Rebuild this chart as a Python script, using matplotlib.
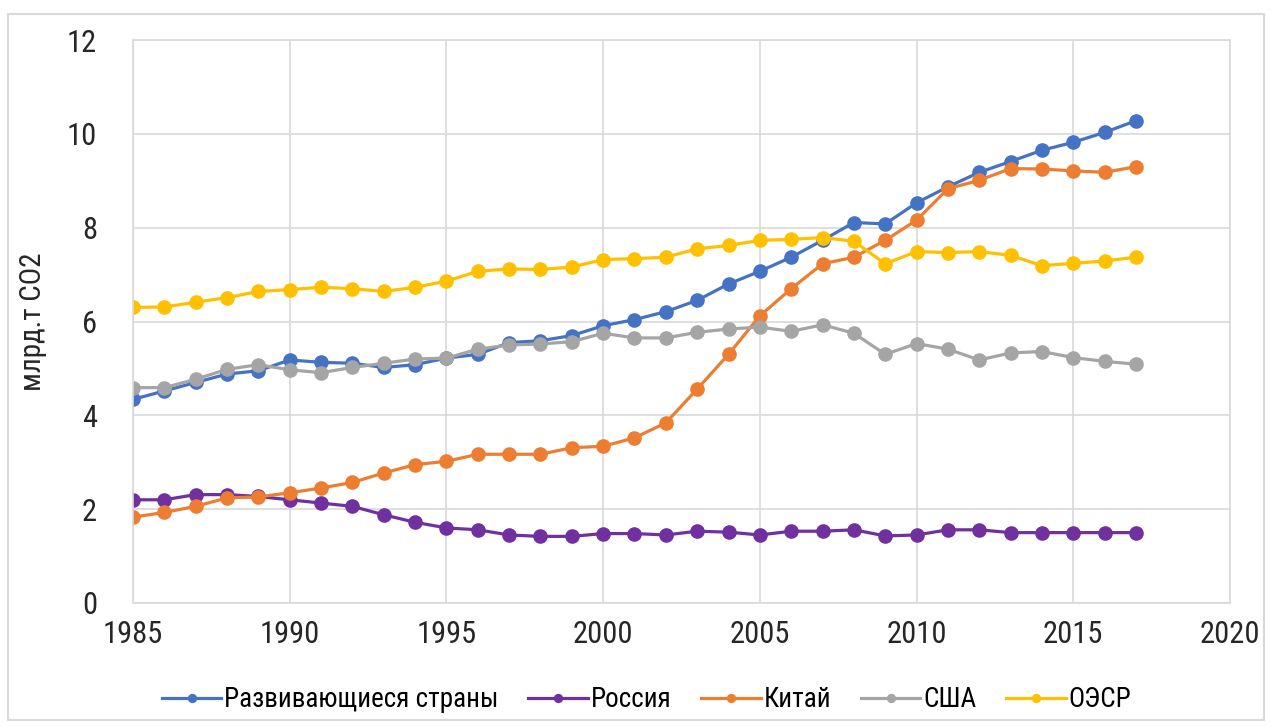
import matplotlib.pyplot as plt
from matplotlib.patches import Rectangle

plt.rcParams['font.family'] = ['Roboto Condensed', 'DejaVu Sans Condensed', 'DejaVu Sans']
plt.rcParams['font.stretch'] = 'condensed'

years = list(range(1985, 2018))

developing = [4.34, 4.52, 4.70, 4.88, 4.95, 5.18, 5.13, 5.11, 5.02, 5.08, 5.22, 5.30,
              5.55, 5.59, 5.70, 5.91, 6.04, 6.21, 6.45, 6.80, 7.07, 7.37, 7.73, 8.11,
              8.08, 8.53, 8.87, 9.18, 9.41, 9.65, 9.82, 10.03, 10.28]
russia = [2.20, 2.20, 2.31, 2.31, 2.27, 2.20, 2.13, 2.06, 1.88, 1.72, 1.60, 1.56,
          1.45, 1.42, 1.42, 1.48, 1.48, 1.45, 1.53, 1.51, 1.45, 1.53, 1.53, 1.56,
          1.43, 1.45, 1.56, 1.56, 1.50, 1.50, 1.50, 1.50, 1.50]
china = [1.83, 1.93, 2.06, 2.24, 2.26, 2.35, 2.45, 2.57, 2.77, 2.95, 3.02, 3.17,
         3.17, 3.17, 3.31, 3.34, 3.52, 3.84, 4.56, 5.30, 6.12, 6.70, 7.23, 7.37,
         7.73, 8.16, 8.83, 9.01, 9.26, 9.25, 9.21, 9.18, 9.30]
usa = [4.59, 4.59, 4.77, 4.98, 5.08, 4.97, 4.91, 5.02, 5.11, 5.20, 5.22, 5.41,
       5.50, 5.52, 5.57, 5.75, 5.65, 5.65, 5.77, 5.84, 5.88, 5.79, 5.93, 5.75,
       5.30, 5.53, 5.41, 5.18, 5.33, 5.36, 5.23, 5.15, 5.09]
oecd = [6.30, 6.31, 6.41, 6.51, 6.64, 6.68, 6.73, 6.70, 6.64, 6.73, 6.86, 7.07,
        7.12, 7.11, 7.16, 7.32, 7.34, 7.37, 7.55, 7.62, 7.73, 7.75, 7.79, 7.71,
        7.23, 7.49, 7.47, 7.49, 7.41, 7.19, 7.24, 7.29, 7.37]

series = [
    ('Развивающиеся страны', developing, '#4472C4'),
    ('Россия', russia, '#7030A0'),
    ('Китай', china, '#ED7D31'),
    ('США', usa, '#A5A5A5'),
    ('ОЭСР', oecd, '#FFC000'),
]

fig = plt.figure(figsize=(12.71, 7.27), dpi=100)
fig.patches.append(Rectangle((8 / 1271, 7 / 727), 1256 / 1271, 706 / 727,
                             transform=fig.transFigure, fill=False,
                             edgecolor='#D9D9D9', linewidth=1.5))
ax = fig.add_axes([133 / 1271, 124 / 727, 1097 / 1271, 563 / 727])

for label, values, color in series:
    ax.plot(years, values, marker='o', color=color, linewidth=2.3,
            markersize=9.5, label=label)

ax.set_xlim(1985, 2020)
ax.set_ylim(0, 12)
ax.set_xticks(range(1985, 2021, 5))
ax.set_yticks(range(0, 13, 2))
ax.grid(True, color='#D9D9D9', linewidth=1.2)
ax.set_axisbelow(True)
for s in ax.spines.values():
    s.set_color('#D9D9D9')
    s.set_linewidth(1.2)
ax.tick_params(axis='both', length=0, labelsize=22, colors='#262626')
ax.tick_params(axis='y', pad=26)
ax.tick_params(axis='x', pad=12)
ax.set_ylabel('млрд.т CO2', fontsize=21, color='#262626', labelpad=14)

ax.legend(loc='upper center', bbox_to_anchor=(0.468, -0.105), ncol=5,
          frameon=False, fontsize=19.5, handlelength=2.2, handletextpad=0.1,
          columnspacing=1.1, markerscale=0.6)

fig.savefig('out.png', dpi=100)
